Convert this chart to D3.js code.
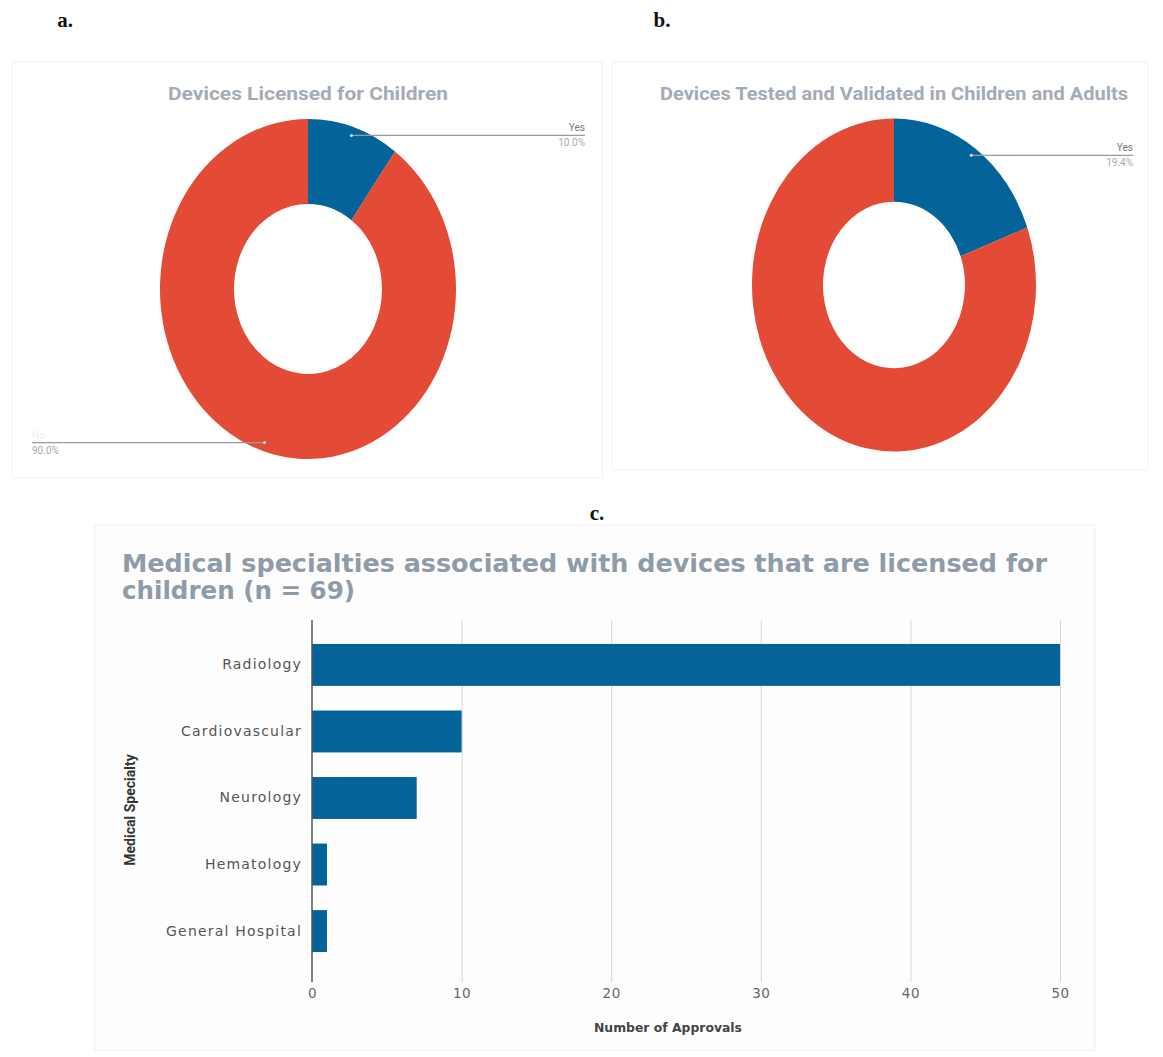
<!DOCTYPE html>
<html>
<head>
<meta charset="utf-8">
<script src="https://cdn.jsdelivr.net/npm/d3@7"></script>
<style>
  body { margin: 0; background: #fff; }
</style>
</head>
<body>
<div id="chart"></div>
<script>
// donut a
var licensedLabels = ["Yes", "No"];
var licensedValues = [10.0, 90.0];
// donut b
var testedLabels = ["Yes", "No"];
var testedValues = [19.4, 80.6];
// bar chart c
var specialties = ["Radiology", "Cardiovascular", "Neurology", "Hematology", "General Hospital"];
var approvals = [50, 10, 7, 1, 1];
var xTicks = [0, 10, 20, 30, 40, 50];

var w = 1163, h = 1057;
var blue = "#04649a", red = "#e44b36";
var wide = "DejaVu Sans, Verdana, sans-serif";
var narrow = "Roboto, Liberation Sans, sans-serif";

var svg = d3.select("#chart").append("svg")
    .attr("width", w)
    .attr("height", h);

// panel frames
svg.append("rect").attr("x", 12).attr("y", 62).attr("width", 590).attr("height", 416)
    .attr("fill", "none").attr("stroke", "#f0f0f0");
svg.append("rect").attr("x", 612).attr("y", 62).attr("width", 536).attr("height", 408)
    .attr("fill", "none").attr("stroke", "#f0f0f0");
svg.append("rect").attr("x", 95).attr("y", 525).attr("width", 1000).attr("height", 525)
    .attr("fill", "#fefefe").attr("stroke", "#f0f0f0");

// panel letters
[["a.", 65, 27], ["b.", 662, 27], ["c.", 597, 520]].forEach(function (p) {
    svg.append("text").attr("x", p[1]).attr("y", p[2])
        .attr("text-anchor", "middle")
        .attr("font-family", "Liberation Serif, serif")
        .attr("font-weight", "bold").attr("font-size", 21)
        .attr("fill", "#111").text(p[0]);
});

function donut(opts) {
    var g = svg.append("g");
    g.append("text").attr("x", opts.cx - opts.titleW / 2).attr("y", opts.titleY)
        .attr("font-family", narrow)
        .attr("font-weight", "bold").attr("font-size", 19)
        .attr("textLength", opts.titleW).attr("lengthAdjust", "spacingAndGlyphs")
        .attr("fill", "#a3acb6").text(opts.title);

    var pie = d3.pie().sort(null).value(function (d) { return d; });
    var arcs = pie(opts.values);
    var arc = d3.arc().innerRadius(opts.r * 0.5).outerRadius(opts.r);
    var sy = opts.ry / opts.r;

    g.append("g")
        .attr("transform", "translate(" + opts.cx + "," + opts.cy + ") scale(1," + sy + ")")
        .selectAll("path")
        .data(arcs)
        .enter().append("path")
        .attr("d", arc)
        .attr("fill", function (d, i) { return i == 0 ? blue : red; });

    arcs.forEach(function (d, i) {
        var lab = opts.labels[i];
        if (!lab.show) return;
        var a = (d.startAngle + d.endAngle) / 2;
        var px = opts.cx + Math.sin(a) * opts.r * 0.95;
        var py = opts.cy - Math.cos(a) * opts.r * 0.95 * sy;
        var right = Math.sin(a) > 0;
        var ex = lab.end;
        g.append("line").attr("x1", px).attr("y1", py).attr("x2", ex).attr("y2", py)
            .attr("stroke", "#9a9a9a").attr("stroke-width", 1.2);
        g.append("circle").attr("cx", px).attr("cy", py).attr("r", 1.5).attr("fill", "#cfe3ef");
        var anchor = right ? "end" : "start";
        g.append("text").attr("x", ex).attr("y", py - 4)
            .attr("text-anchor", anchor)
            .attr("font-family", narrow)
            .attr("font-size", 10).attr("fill", lab.nameColor).text(lab.name);
        g.append("text").attr("x", ex).attr("y", py + 11)
            .attr("text-anchor", anchor)
            .attr("font-family", narrow)
            .attr("font-size", 10).attr("fill", "#aaa")
            .text(d3.format(".1f")(d.value) + "%");
    });
}

donut({
    title: "Devices Licensed for Children", cx: 308, cy: 289, r: 148, ry: 170,
    titleY: 100, titleW: 280,
    values: licensedValues,
    labels: [
        { name: licensedLabels[0], show: true, end: 585, nameColor: "#777" },
        { name: licensedLabels[1], show: true, end: 32, nameColor: "#eee" }
    ]
});
donut({
    title: "Devices Tested and Validated in Children and Adults", cx: 894, cy: 285, r: 142, ry: 166.5,
    titleY: 100, titleW: 468,
    values: testedValues,
    labels: [
        { name: testedLabels[0], show: true, end: 1133, nameColor: "#777" },
        { name: testedLabels[1], show: false }
    ]
});

// bar chart
var c = svg.append("g");
c.append("text").attr("x", 122).attr("y", 572)
    .attr("font-family", wide)
    .attr("font-weight", "bold").attr("font-size", 24)
    .attr("textLength", 925).attr("lengthAdjust", "spacingAndGlyphs")
    .attr("fill", "#8f9ba8")
    .text("Medical specialties associated with devices that are licensed for");
c.append("text").attr("x", 122).attr("y", 599)
    .attr("font-family", wide)
    .attr("font-weight", "bold").attr("font-size", 24)
    .attr("textLength", 233).attr("lengthAdjust", "spacingAndGlyphs")
    .attr("fill", "#8f9ba8")
    .text("children (n = 69)");

var xscale = d3.scaleLinear().domain([0, 50]).range([312, 1060]);
var yscale = d3.scaleBand().domain(specialties).range([620, 976])
    .paddingInner(0.37).paddingOuter(0.36);

var xaxis = d3.axisBottom(xscale).tickValues(xTicks).tickSize(362).tickPadding(6);
var gx = c.append("g").attr("transform", "translate(0,620)").call(xaxis);
gx.select(".domain").remove();
gx.selectAll(".tick line").attr("stroke", "#d4d4d4");
gx.selectAll(".tick text")
    .attr("font-family", wide)
    .attr("font-size", 13.5).attr("letter-spacing", 0.5).attr("fill", "#666");
gx.selectAll(".tick").filter(function (d) { return d == 0; }).select("line").remove();

c.selectAll("rect.bar")
    .data(approvals)
    .enter().append("rect")
    .attr("class", "bar")
    .attr("x", xscale(0))
    .attr("y", function (d, i) { return yscale(specialties[i]); })
    .attr("width", function (d) { return xscale(d) - xscale(0); })
    .attr("height", yscale.bandwidth())
    .attr("fill", blue);

var yaxis = d3.axisLeft(yscale).tickSize(0).tickPadding(10);
var gy = c.append("g").attr("transform", "translate(" + xscale(0) + ",0)").call(yaxis);
gy.select(".domain").attr("d", "M0,620V982").attr("stroke", "#555").attr("stroke-width", 1.5);
gy.selectAll(".tick text")
    .attr("font-family", wide)
    .attr("font-size", 14).attr("letter-spacing", 1.2).attr("fill", "#555");

c.append("text").attr("x", 594).attr("y", 1032)
    .attr("font-family", wide)
    .attr("font-weight", "bold").attr("font-size", 12)
    .attr("textLength", 148).attr("lengthAdjust", "spacingAndGlyphs")
    .attr("fill", "#444").text("Number of Approvals");
c.append("text")
    .attr("transform", "translate(135,810) rotate(-90)")
    .attr("text-anchor", "middle")
    .attr("font-family", narrow)
    .attr("font-weight", "bold").attr("font-size", 14)
    .attr("fill", "#333").text("Medical Specialty");
</script>
</body>
</html>
